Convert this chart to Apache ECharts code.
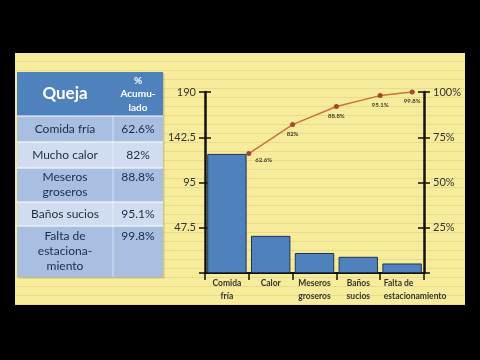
<!DOCTYPE html>
<html><head><meta charset="utf-8">
<script src="https://cdn.jsdelivr.net/npm/echarts@6/dist/echarts.min.js"></script>
<style>
html,body{margin:0;padding:0;background:#000;}
#wrap{position:relative;width:480px;height:360px;background:#000;overflow:hidden;}
#paper{position:absolute;left:15px;top:53px;width:450px;height:252px;background-color:#f7ec9c;background-image:repeating-linear-gradient(to bottom, rgba(0,0,0,0) 0px, rgba(0,0,0,0) 8px, #e8dc8a 8px, #e8dc8a 9px);}
#chart{position:absolute;left:0;top:0;width:480px;height:360px;}
</style></head><body>
<div id="wrap"><div id="paper"></div><div id="chart"></div></div>
<script>
// ---- data ----
const categories = ['Comida\nfría', 'Calor', 'Meseros\ngroseros', 'Baños\nsucios', 'Falta de\nestacionamiento'];
const barValues = [125, 39, 21, 17, 10];
const cumPos = [1, 2, 3, 4, 4.73];
const cumValues = [66, 82, 92, 98, 100];
const cumLabels = ['62.6%', '82%', '88.8%', '95.1%', '99.8%'];
const leftTicks = [47.5, 95, 142.5, 190];
const rightTicks = [25, 50, 75, 100];
const tableHeader = ['Queja', '%\nAcumu-\nlado'];
const tableNames = ['Comida fría', 'Mucho calor', 'Meseros\ngroseros', 'Baños sucios', 'Falta de\nestaciona-\nmiento'];
const tablePcts = ['62.6%', '82%', '88.8%', '95.1%', '99.8%'];

// ---- table graphic ----
const FONT = 'Lato, "Open Sans", sans-serif';
const colX = [17, 113, 163];
const rowY = [72, 116, 142, 168, 202, 226, 277];
const rowFill = ['#a8bfe2', '#d0dcf0'];
const g = [];
g.push({type: 'rect', shape: {x: colX[0] + 1.5, y: rowY[0] + 1.5, width: colX[2] - colX[0], height: rowY[6] - rowY[0]}, style: {fill: 'rgba(90,90,60,0.25)'}});
g.push({type: 'rect', shape: {x: colX[0], y: rowY[0], width: colX[2] - colX[0], height: rowY[1] - rowY[0]}, style: {fill: '#4f81bd'}});
for (let i = 0; i < tableNames.length; i++) {
  g.push({type: 'rect', shape: {x: colX[0], y: rowY[i + 1], width: colX[2] - colX[0], height: rowY[i + 2] - rowY[i + 1]}, style: {fill: rowFill[i % 2]}});
  g.push({type: 'line', shape: {x1: colX[0], y1: rowY[i + 1], x2: colX[2], y2: rowY[i + 1]}, style: {stroke: '#ffffff', lineWidth: 1}});
}
g.push({type: 'line', shape: {x1: colX[1], y1: rowY[1], x2: colX[1], y2: rowY[6]}, style: {stroke: 'rgba(255,255,255,0.55)', lineWidth: 1}});
g.push({type: 'text', style: {text: tableHeader[0], x: (colX[0] + colX[1]) / 2, y: (rowY[0] + rowY[1]) / 2, align: 'center', verticalAlign: 'middle', fontSize: 17, fontWeight: 'bold', fontFamily: FONT, fill: '#ffffff'}});
g.push({type: 'text', style: {text: tableHeader[1], x: (colX[1] + colX[2]) / 2, y: (rowY[0] + rowY[1]) / 2, align: 'center', verticalAlign: 'middle', fontSize: 10, fontWeight: 'bold', lineHeight: 13.5, fontFamily: FONT, fill: '#ffffff'}});
for (let i = 0; i < tableNames.length; i++) {
  const top = rowY[i + 1], bot = rowY[i + 2];
  const lines = tableNames[i].split('\n').length;
  const blockTop = (top + bot) / 2 - lines * 15 / 2;
  g.push({type: 'text', style: {text: tableNames[i], x: (colX[0] + colX[1]) / 2, y: (top + bot) / 2, align: 'center', verticalAlign: 'middle', fontSize: 12, lineHeight: 15, fontFamily: FONT, fill: '#1d2b45'}});
  g.push({type: 'text', style: {text: tablePcts[i], x: (colX[1] + colX[2]) / 2, y: lines > 1 ? blockTop : (top + bot) / 2 - 7.5, align: 'center', verticalAlign: 'top', fontSize: 12, lineHeight: 15, fontFamily: FONT, fill: '#1d2b45'}});
}

// ---- chart ----
const chart = echarts.init(document.getElementById('chart'), null, {renderer: 'canvas'});
const lineData = cumPos.map((x, i) => {
  const d = {value: [x, cumValues[i]]};
  if (i === 0) d.label = {position: 'right', offset: [0, 7]};
  return d;
});
const lastCat = categories.length - 1;
const catData = categories.map((c, i) => i === lastCat
  ? {value: c, textStyle: {padding: [0, 0, 0, 26]}}
  : c);
const axisTextColor = '#333333';
chart.setOption({
  animation: false,
  backgroundColor: 'transparent',
  textStyle: {fontFamily: FONT},
  graphic: g,
  grid: {left: 205, right: 56, top: 92, bottom: 87},
  xAxis: [
    {type: 'category', data: catData, boundaryGap: true,
     axisLine: {show: true, lineStyle: {color: '#111', width: 2}},
     axisTick: {show: true, length: 7, lineStyle: {color: '#111', width: 1.5}},
     axisLabel: {interval: 0, fontSize: 8.5, fontWeight: 'bold', color: axisTextColor, lineHeight: 13, margin: 4, fontFamily: FONT,
       formatter: (v, i) => i === lastCat ? v.split('\n').map(s => '{l|' + s + '}').join('\n') : v,
       rich: {l: {align: 'left', fontSize: 8.5, fontWeight: 'bold', color: axisTextColor, lineHeight: 13, fontFamily: FONT}}}},
    {type: 'value', min: 0, max: 5, show: false}
  ],
  yAxis: [
    {type: 'value', position: 'left', min: 0, max: 190, interval: 47.5,
     axisLine: {show: true, lineStyle: {color: '#111', width: 2.5}},
     axisTick: {show: true, length: 6, lineStyle: {color: '#111', width: 1.5}},
     splitLine: {show: false},
     axisLabel: {fontSize: 11, color: axisTextColor, margin: 9, fontFamily: FONT,
       formatter: v => leftTicks.includes(v) ? String(v) : ''}},
    {type: 'value', position: 'right', min: 0, max: 100, interval: 25,
     axisLine: {show: true, lineStyle: {color: '#111', width: 2.5}},
     axisTick: {show: true, length: 6, lineStyle: {color: '#111', width: 1.5}},
     splitLine: {show: false},
     axisLabel: {fontSize: 11, color: axisTextColor, margin: 9, fontFamily: FONT,
       formatter: v => rightTicks.includes(v) ? v + '%' : ''}},
    {type: 'value', position: 'left', min: 0, max: 190, interval: 47.5,
     axisLine: {show: false}, axisTick: {show: true, inside: true, length: 6, lineStyle: {color: '#111', width: 1.5}},
     axisLabel: {show: false}, splitLine: {show: false}},
    {type: 'value', position: 'right', min: 0, max: 100, interval: 25,
     axisLine: {show: false}, axisTick: {show: true, inside: true, length: 6, lineStyle: {color: '#111', width: 1.5}},
     axisLabel: {show: false}, splitLine: {show: false}}
  ],
  series: [
    {type: 'bar', data: barValues, xAxisIndex: 0, yAxisIndex: 0, barCategoryGap: '10%',
     itemStyle: {color: '#4f81bd', borderColor: '#1e3555', borderWidth: 1}},
    {type: 'line', data: lineData, xAxisIndex: 1, yAxisIndex: 1,
     symbol: 'circle', symbolSize: 5,
     lineStyle: {color: '#c8733a', width: 1.5},
     itemStyle: {color: '#a5472a'},
     label: {show: true, position: 'bottom', distance: 4, fontSize: 6, fontWeight: 'bold', color: '#3a3a2a',
       formatter: p => cumLabels[p.dataIndex]}}
  ]
});
</script>
</body></html>
